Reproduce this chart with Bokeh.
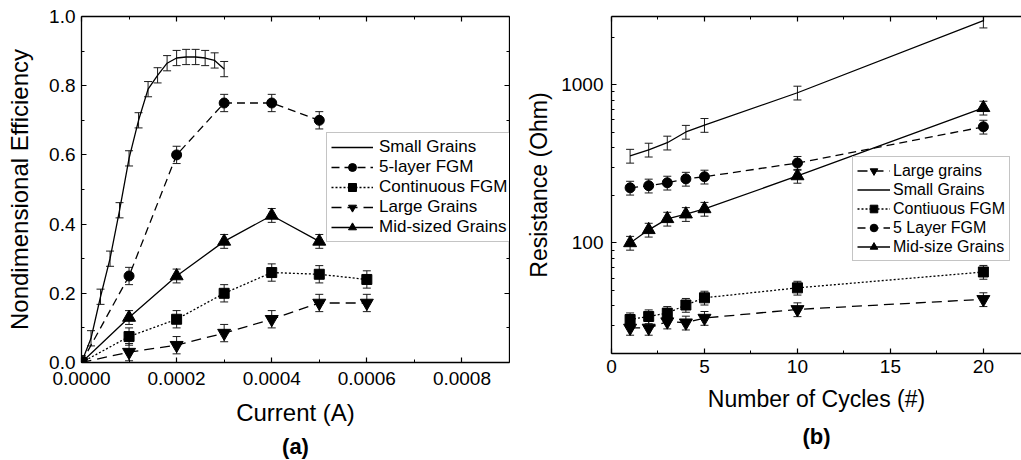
from bokeh.plotting import figure
from bokeh.models import (Range1d, LinearAxis, FixedTicker, Whisker, TeeHead, CustomJSTickFormatter,
                          ColumnDataSource, Legend, LegendItem, Title, PrintfTickFormatter)
from bokeh.layouts import row
from bokeh.embed import file_html
from bokeh.resources import INLINE

FONT = "Liberation Sans"

# ---------------- Panel (a) data ----------------
cur_small = [0, 2e-5, 4e-5, 6e-5, 8e-5, 1e-4, 1.2e-4, 1.4e-4, 1.6e-4, 1.8e-4, 2e-4,
             2.2e-4, 2.4e-4, 2.6e-4, 2.8e-4, 3e-4]
eff_small = [0.0, 0.07, 0.19, 0.30, 0.44, 0.59, 0.70, 0.79, 0.83, 0.865, 0.88,
             0.883, 0.883, 0.88, 0.873, 0.848]
err_small = [0.02, 0.022, 0.022, 0.022, 0.022, 0.022, 0.022, 0.022, 0.022, 0.022, 0.022,
             0.022, 0.022, 0.022, 0.022, 0.022]

cur_5layer = [0, 1e-4, 2e-4, 3e-4, 4e-4, 5e-4]
eff_5layer = [0.0, 0.25, 0.60, 0.75, 0.75, 0.70]
err_5layer = [0.02, 0.025, 0.025, 0.025, 0.025, 0.025]

cur_cont = [0, 1e-4, 2e-4, 3e-4, 4e-4, 5e-4, 6e-4]
eff_cont = [0.0, 0.075, 0.125, 0.20, 0.26, 0.255, 0.24]
err_cont = [0.02, 0.025, 0.025, 0.025, 0.025, 0.025, 0.025]

cur_large = [0, 1e-4, 2e-4, 3e-4, 4e-4, 5e-4, 6e-4]
eff_large = [0.0, 0.03, 0.05, 0.085, 0.125, 0.172, 0.172]
err_large = [0.02, 0.025, 0.025, 0.025, 0.025, 0.025, 0.025]

cur_mid = [0, 1e-4, 2e-4, 3e-4, 4e-4, 5e-4]
eff_mid = [0.0, 0.13, 0.25, 0.35, 0.425, 0.35]
err_mid = [0.02, 0.02, 0.02, 0.02, 0.02, 0.02]

xticks_a = [0, 0.0002, 0.0004, 0.0006, 0.0008]
yticks_a = [0.0, 0.2, 0.4, 0.6, 0.8, 1.0]

# ---------------- Panel (b) data ----------------
cycles = [1, 2, 3, 4, 5, 10, 20]
res_large = [29, 29, 31.8, 31.3, 33.5, 38, 44]
res_small = [355, 388, 430, 503, 556, 890, 2540]
res_cont = [32.8, 34.3, 36, 40.5, 45, 52, 65.5]
res_5layer = [223, 230, 240, 254, 262, 320, 542]
res_mid = [100, 121, 142, 152, 164, 265, 715]
rel_err = 0.10

xticks_b = [0, 5, 10, 15, 20]
yticks_b = [100, 1000]

BLACK = "#000000"
EMPTY = CustomJSTickFormatter(code="return ''")


def style_axis(ax, hidden=False):
    ax.axis_line_color = BLACK
    ax.axis_line_width = 1.3
    ax.major_tick_in = 5
    ax.major_tick_out = 0
    ax.minor_tick_in = 3
    ax.minor_tick_out = 0
    ax.major_tick_line_color = BLACK
    ax.minor_tick_line_color = BLACK
    ax.major_tick_line_width = 1.2
    ax.minor_tick_line_width = 1.0
    ax.major_label_text_font = FONT
    ax.major_label_text_color = BLACK
    ax.axis_label_text_font = FONT
    ax.axis_label_text_font_style = "normal"
    ax.axis_label_text_color = BLACK
    ax.axis_label_text_font_size = "23px"
    if hidden:
        ax.formatter = EMPTY
        ax.major_label_text_font_size = "0px"
        ax.major_label_standoff = 0
        ax.axis_label = None
    else:
        ax.major_label_text_font_size = "19px"


def whiskers(p, xs, lo, hi):
    src = ColumnDataSource(dict(x=xs, lo=lo, hi=hi))
    w = Whisker(base="x", lower="lo", upper="hi", source=src, dimension="height",
                line_color="#1a1a1a", line_width=1,
                upper_head=TeeHead(size=8, line_color="#1a1a1a", line_width=1),
                lower_head=TeeHead(size=8, line_color="#1a1a1a", line_width=1))
    p.add_layout(w)


# ================= Panel (a) =================
pa = figure(frame_width=428, frame_height=346, output_backend="svg", toolbar_location=None,
            x_range=Range1d(0, 0.0009), y_range=Range1d(0, 1.0),
            background_fill_color="white", border_fill_color="white")
pa.outline_line_color = None
pa.grid.visible = False
pa.min_border = 0
pa.min_border_top = 14
pa.min_border_left = 81
pa.min_border_right = 1

xt_a = FixedTicker(ticks=xticks_a, minor_ticks=[0.0001, 0.0003, 0.0005, 0.0007])
yt_a = FixedTicker(ticks=yticks_a, minor_ticks=[0.1, 0.3, 0.5, 0.7, 0.9])

ax = pa.xaxis[0]
ax.ticker = xt_a
ax.formatter = PrintfTickFormatter(format="%.4f")
ax.axis_label = "Current (A)"
style_axis(ax)
ax.axis_label_text_font_size = "24px"
ax.major_label_standoff = 9
ax.axis_label_standoff = 11

ay = pa.yaxis[0]
ay.ticker = yt_a
ay.formatter = PrintfTickFormatter(format="%.1f")
ay.axis_label = "Nondimensional Efficiency"
style_axis(ay)
ay.axis_label_text_font_size = "24px"
ay.major_label_standoff = 6
ay.axis_label_standoff = 13

top_a = LinearAxis(ticker=xt_a)
style_axis(top_a, hidden=True)
pa.add_layout(top_a, "above")
right_a = LinearAxis(ticker=yt_a)
style_axis(right_a, hidden=True)
pa.add_layout(right_a, "right")

LW = 1.3
# Small Grains
whiskers(pa, cur_small, [v - e for v, e in zip(eff_small, err_small)],
         [v + e for v, e in zip(eff_small, err_small)])
r_small = pa.line(cur_small, eff_small, line_color=BLACK, line_width=LW)
# 5-layer
whiskers(pa, cur_5layer[1:], [v - e for v, e in zip(eff_5layer[1:], err_5layer[1:])],
         [v + e for v, e in zip(eff_5layer[1:], err_5layer[1:])])
l5 = pa.line(cur_5layer, eff_5layer, line_color=BLACK, line_width=LW, line_dash="8 5")
m5 = pa.scatter(cur_5layer, eff_5layer, marker="circle", size=10, fill_color=BLACK, line_color=BLACK)
# Continuous
whiskers(pa, cur_cont[1:], [v - e for v, e in zip(eff_cont[1:], err_cont[1:])],
         [v + e for v, e in zip(eff_cont[1:], err_cont[1:])])
lc = pa.line(cur_cont, eff_cont, line_color=BLACK, line_width=LW, line_dash="2 2")
mc = pa.scatter(cur_cont, eff_cont, marker="square", size=10, fill_color=BLACK, line_color=BLACK)
# Large
whiskers(pa, cur_large[1:], [v - e for v, e in zip(eff_large[1:], err_large[1:])],
         [v + e for v, e in zip(eff_large[1:], err_large[1:])])
ll = pa.line(cur_large, eff_large, line_color=BLACK, line_width=LW, line_dash="10 6")
ml = pa.scatter(cur_large, eff_large, marker="inverted_triangle", size=13, fill_color=BLACK, line_color=BLACK)
# Mid
whiskers(pa, cur_mid[1:], [v - e for v, e in zip(eff_mid[1:], err_mid[1:])],
         [v + e for v, e in zip(eff_mid[1:], err_mid[1:])])
lm = pa.line(cur_mid, eff_mid, line_color=BLACK, line_width=LW)
mm = pa.scatter(cur_mid, eff_mid, marker="triangle", size=13, fill_color=BLACK, line_color=BLACK)

leg_a = Legend(items=[
    LegendItem(label="Small Grains", renderers=[r_small]),
    LegendItem(label="5-layer FGM", renderers=[l5, m5]),
    LegendItem(label="Continuous FGM", renderers=[lc, mc]),
    LegendItem(label="Large Grains", renderers=[ll, ml]),
    LegendItem(label="Mid-sized Grains", renderers=[lm, mm]),
], location=(245, 120), margin=0, padding=4, spacing=0,
    glyph_width=42, glyph_height=20, label_height=20, label_standoff=6,
    label_text_font=FONT, label_text_font_size="17px", label_text_color=BLACK,
    border_line_color="#8a8a8a", border_line_width=1, background_fill_color="white",
    background_fill_alpha=1.0)
pa.add_layout(leg_a)

pa.add_layout(Title(text="(a)", align="center", text_font=FONT, text_font_size="22px",
                    text_font_style="bold", text_color=BLACK, standoff=6), "below")

# ================= Panel (b) =================
pb = figure(frame_width=410, frame_height=337, output_backend="svg", toolbar_location=None,
            x_range=Range1d(0, 22.05), y_range=Range1d(20, 2700), y_axis_type="log",
            background_fill_color="white", border_fill_color="white")
pb.outline_line_color = None
pb.grid.visible = False
pb.min_border = 0
pb.min_border_top = 16
pb.min_border_left = 101

xt_b = FixedTicker(ticks=xticks_b, minor_ticks=[2.5, 7.5, 12.5, 17.5])
yt_b = FixedTicker(ticks=yticks_b,
                   minor_ticks=[20, 30, 40, 50, 60, 70, 80, 90, 200, 300, 400, 500, 600, 700,
                                800, 900, 2000])

bx = pb.xaxis[0]
bx.ticker = xt_b
bx.axis_label = "Number of Cycles (#)"
style_axis(bx)
bx.major_label_standoff = 6
bx.axis_label_standoff = 10

by = pb.yaxis[0]
by.ticker = yt_b
by.formatter = PrintfTickFormatter(format="%d")
by.axis_label = "Resistance (Ohm)"
style_axis(by)
by.major_label_standoff = 8
by.axis_label_standoff = 6

top_b = LinearAxis(ticker=xt_b)
style_axis(top_b, hidden=True)
pb.add_layout(top_b, "above")


def rel_whiskers(p, xs, vals):
    whiskers(p, xs, [v * (1 - rel_err) for v in vals], [v * (1 + rel_err) for v in vals])


rel_whiskers(pb, cycles, res_small)
b_small = pb.line(cycles, res_small, line_color=BLACK, line_width=LW)

rel_whiskers(pb, cycles, res_5layer)
b5l = pb.line(cycles, res_5layer, line_color=BLACK, line_width=LW, line_dash="8 5")
b5m = pb.scatter(cycles, res_5layer, marker="circle", size=10, fill_color=BLACK, line_color=BLACK)

rel_whiskers(pb, cycles, res_mid)
bml = pb.line(cycles, res_mid, line_color=BLACK, line_width=LW)
bmm = pb.scatter(cycles, res_mid, marker="triangle", size=13, fill_color=BLACK, line_color=BLACK)

rel_whiskers(pb, cycles, res_cont)
bcl = pb.line(cycles, res_cont, line_color=BLACK, line_width=LW, line_dash="2 2")
bcm = pb.scatter(cycles, res_cont, marker="square", size=10, fill_color=BLACK, line_color=BLACK)

rel_whiskers(pb, cycles, res_large)
bll = pb.line(cycles, res_large, line_color=BLACK, line_width=LW, line_dash="10 6")
blm = pb.scatter(cycles, res_large, marker="inverted_triangle", size=13, fill_color=BLACK, line_color=BLACK)

leg_b = Legend(items=[
    LegendItem(label="Large grains", renderers=[bll, blm]),
    LegendItem(label="Small Grains", renderers=[b_small]),
    LegendItem(label="Contiuous FGM", renderers=[bcl, bcm]),
    LegendItem(label="5 Layer FGM", renderers=[b5l, b5m]),
    LegendItem(label="Mid-size Grains", renderers=[bml, bmm]),
], location=(241, 92), margin=0, padding=4, spacing=0,
    glyph_width=33, glyph_height=19, label_height=19, label_standoff=3,
    label_text_font=FONT, label_text_font_size="16px", label_text_color=BLACK,
    border_line_color="#8a8a8a", border_line_width=1, background_fill_color="white",
    background_fill_alpha=1.0)
pb.add_layout(leg_b)

pb.add_layout(Title(text="(b)", align="center", text_font=FONT, text_font_size="22px",
                    text_font_style="bold", text_color=BLACK, standoff=14), "below")

layout = row(pa, pb)
open("out.html", "w").write(file_html(layout, INLINE))
